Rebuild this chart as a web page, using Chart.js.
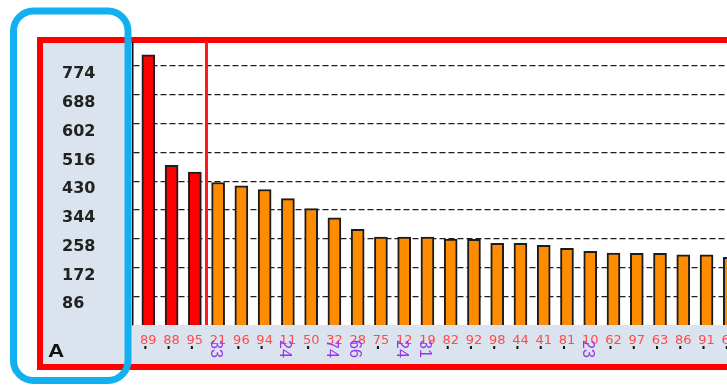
<!DOCTYPE html>
<html>
<head>
<meta charset="utf-8">
<style>
  html, body { margin: 0; padding: 0; overflow: hidden; background: #fff; width: 727px; height: 387px; }
  canvas { display: block; }
</style>
<script src="https://cdn.jsdelivr.net/npm/chart.js@4/dist/chart.umd.min.js"></script>
</head>
<body>
<canvas id="c" width="767" height="387"></canvas>
<script>
// Category codes along the bottom, bar heights, and the secondary tags under some bars
const categories = ['89','88','95','21','96','94','11','50','32','28','75','12','19','82','92','98','44','41','81','10','62','97','63','86','91','64'];
const values = [808,477,457,426,416,405,378,348,320,286,263,263,263,257,256,244,244,238,229,220,215,214,214,210,210,202];
const tags = ['','','','33','','','24','','74','66','','24','31','','','','','','','23','','','','','',''];
const yTickValues = [86,172,258,344,430,516,602,688,774];
const highlighted = 3; // leading bars drawn in red, separated by a marker line

const PANEL = '#dbe4ee';

const framePlugin = {
  id: 'frame',
  beforeDraw(chart) {
    const { ctx, chartArea: a, width, height } = chart;
    ctx.save();
    ctx.fillStyle = '#fff';
    ctx.fillRect(0, 0, width, height);
    // panel background inside the red frame
    ctx.fillStyle = PANEL;
    ctx.fillRect(43, 43, width, 321);
    // white plotting area
    ctx.fillStyle = '#fff';
    ctx.fillRect(a.left, a.top, a.right - a.left, a.bottom - a.top);
    // red frame
    ctx.strokeStyle = '#ff0000';
    ctx.lineWidth = 6;
    ctx.strokeRect(40, 40, width + 20, 327);
    ctx.restore();
  },
  afterDatasetsDraw(chart) {
    const { ctx, chartArea: a } = chart;
    const x = chart.scales.x.getPixelForValue(highlighted - 0.5);
    ctx.save();
    ctx.strokeStyle = '#ff1a1a';
    ctx.lineWidth = 3;
    ctx.beginPath();
    ctx.moveTo(x, 41);
    ctx.lineTo(x, a.bottom);
    ctx.stroke();
    ctx.restore();
  },
  afterDraw(chart) {
    const { ctx } = chart;
    const xs = chart.scales.x;
    ctx.save();
    // second label row: tick dots or rotated tags
    categories.forEach((c, i) => {
      const x = xs.getPixelForValue(i) - 3;
      if (tags[i]) {
        ctx.save();
        ctx.translate(x, 340);
        ctx.rotate(Math.PI / 2);
        ctx.fillStyle = '#9933ee';
        ctx.font = '16px "Liberation Sans"';
        ctx.textAlign = 'left';
        ctx.textBaseline = 'middle';
        ctx.fillText(tags[i], 0, 0);
        ctx.restore();
      } else {
        ctx.fillStyle = '#111';
        ctx.fillRect(x - 1, 346, 2, 3);
      }
    });
    // axis caption in the corner
    ctx.save();
    ctx.translate(48, 357);
    ctx.scale(1.25, 1);
    ctx.fillStyle = '#111';
    ctx.font = 'bold 18px "Liberation Sans"';
    ctx.fillText('A', 0, 0);
    ctx.restore();
    // blue rounded outline around the value axis
    const x0 = 13.5, y0 = 11, x1 = 128, y1 = 380.5, r = 20;
    ctx.strokeStyle = '#12b0ee';
    ctx.lineWidth = 7;
    ctx.beginPath();
    ctx.moveTo(x0 + r, y0);
    ctx.arcTo(x1, y0, x1, y1, r);
    ctx.arcTo(x1, y1, x0, y1, r);
    ctx.arcTo(x0, y1, x0, y0, r);
    ctx.arcTo(x0, y0, x1, y0, r);
    ctx.closePath();
    ctx.stroke();
    ctx.restore();
  }
};

new Chart(document.getElementById('c'), {
  type: 'bar',
  data: {
    datasets: [{
      data: values.map((v, i) => ({ x: i, y: v })),
      backgroundColor: values.map((v, i) => i < highlighted ? '#ff0000' : '#ff8c00'),
      borderColor: '#1c1c1c',
      borderWidth: 2,
      barThickness: 13
    }]
  },
  options: {
    responsive: false,
    animation: false,
    devicePixelRatio: 1,
    layout: { padding: { left: 62, top: 43, right: 0, bottom: 0 } },
    plugins: { legend: { display: false }, tooltip: { enabled: false } },
    scales: {
      x: {
        type: 'linear',
        offset: false,
        min: -0.66,
        max: 26.6,
        grid: { display: false, offset: false },
        border: { display: false },
        afterBuildTicks: s => { s.ticks = categories.map((c, i) => ({ value: i })); },
        afterFit: s => { s.height = 62; },
        ticks: {
          autoSkip: false,
          maxRotation: 0,
          padding: 0,
          color: '#ff4a4a',
          font: { family: 'DejaVu Sans', size: 13 },
          callback: v => categories[v]
        }
      },
      y: {
        min: 0,
        max: 843,
        afterBuildTicks: s => { s.ticks = yTickValues.map(v => ({ value: v })); },
        afterFit: s => { s.width = 71; },
        grid: { color: '#1e1e1e', lineWidth: 1.3, drawTicks: false },
        border: { display: true, color: '#111', width: 1.5, dash: [6, 3] },
        ticks: {
          crossAlign: 'far',
          labelOffset: 8,
          padding: 0,
          color: '#222',
          font: { family: 'DejaVu Sans', size: 16, weight: 'bold' }
        }
      }
    }
  },
  plugins: [framePlugin]
});
</script>
</body>
</html>
